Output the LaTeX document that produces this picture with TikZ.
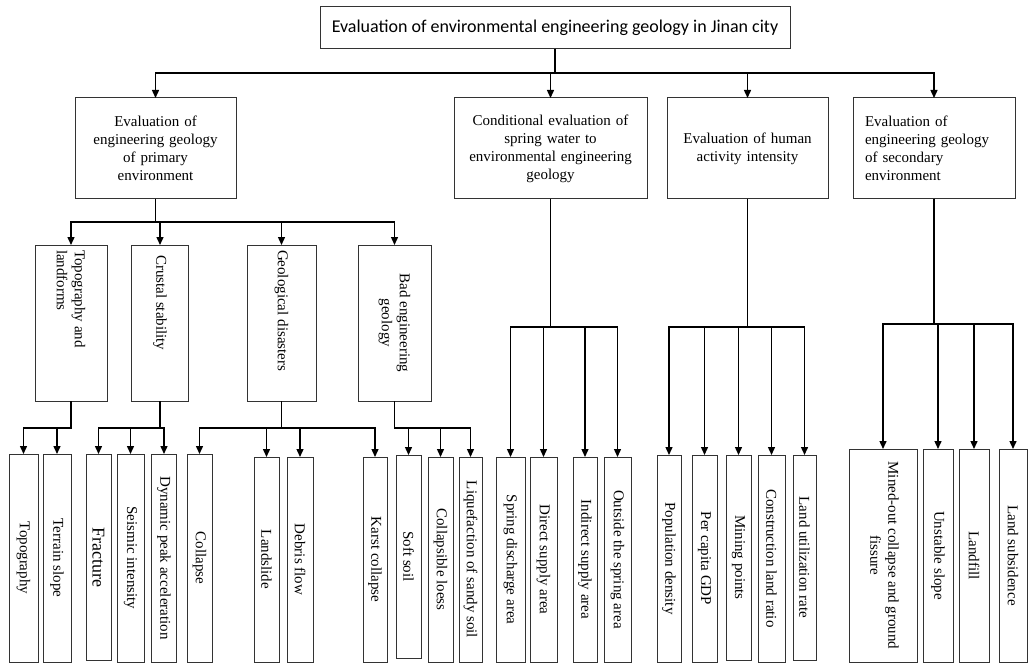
\documentclass[tikz,border=0pt]{standalone}
\usepackage{fontspec}
\setmainfont{Liberation Serif}
\newfontfamily\calibfont{Carlito}
\usepackage{graphicx}
\usetikzlibrary{arrows.meta, positioning}
\newcommand\boxfont{\fontsize{15}{18}\selectfont}
\newcommand\vtext[1]{\rotatebox{-90}{#1}}
\newcommand\vpar[2]{\rotatebox{-90}{\parbox{#1}{#2}}}
\tikzset{
  rootbox/.style={draw=black!80, line width=1pt, minimum width=470pt, minimum height=42pt,
                  inner sep=2pt, outer sep=0pt, font=\calibfont\fontsize{18}{21}\selectfont},
  mainbox/.style={draw=black!80, line width=1pt, minimum height=101pt,
                  inner sep=2pt, outer sep=0pt, font=\boxfont, align=center},
  subbox/.style={draw=black!80, line width=1pt, minimum height=156pt,
                 inner sep=1pt, outer sep=0pt, font=\boxfont},
  leafbox/.style={draw=black!80, line width=1pt, minimum height=205pt,
                  inner sep=1pt, outer sep=0pt, font=\boxfont},
  arr/.style={-{Triangle[width=7pt,length=8pt]}, line width=1.4pt},
}

\begin{document}
\begin{tikzpicture}[x=1pt, y=-1pt]
  \useasboundingbox (0,0) rectangle (1030,663);

  % top
  \node[rootbox] (root) at (555,28) {Evaluation of environmental engineering geology in Jinan city};

  % first level
  \node[mainbox, minimum width=161pt, text width=150pt] (pri) at (155.5,148.5)
    {Evaluation of\\engineering geology\\of primary\\environment};
  \node[mainbox, minimum width=193pt, text width=185pt] (spr) at (550.5,148.5)
    {Conditional evaluation of\\spring water to\\environmental engineering\\geology};
  \node[mainbox, minimum width=161pt, text width=150pt] (hum) at (747.5,148.5)
    {Evaluation of human\\activity intensity};
  \node[mainbox, minimum width=162pt, text width=138pt, align=left] (sec) at (934,148.5)
    {Evaluation of\\engineering geology\\of secondary\\environment};

  \foreach \c in {pri,spr,hum,sec}
    \draw[arr] (root.south) -- ++(0,24) -| (\c.north);

  % primary environment
  \node[subbox, minimum width=72pt] (topo) at (71,323)
    {\vpar{146pt}{\raggedright Topography and\\landforms}};
  \node[subbox, minimum width=57pt] (crust) at (160,323)
    {\vpar{146pt}{\raggedright\hspace*{5pt}Crustal stability}};
  \node[subbox, minimum width=69pt] (geo) at (281.5,323)
    {\vpar{146pt}{\raggedright Geological disasters}};
  \node[subbox, minimum width=73pt] (bad) at (394.5,323)
    {\vpar{146pt}{\centering Bad engineering\\geology}};

  \foreach \c in {topo,crust,geo,bad}
    \draw[arr] (pri.south) -- ++(0,23) -| (\c.north);

  % leaves
  \node[leafbox, minimum width=29pt, minimum height=208pt] (topog) at (23.5,558) {\vtext{Topography}};
  \node[leafbox, minimum width=28pt, minimum height=208pt] (slope) at (57,558) {\vtext{Terrain slope}};
  \node[leafbox, minimum width=25pt, minimum height=206pt] (fract) at (98.5,557)
    {\vtext{\fontsize{18}{21}\selectfont Fracture}};
  \node[leafbox, minimum width=27pt, minimum height=208pt] (seism) at (130.5,558) {\vtext{Seismic intensity}};
  \node[leafbox, minimum width=25pt, minimum height=208pt] (peak) at (164,558) {\vtext{Dynamic peak acceleration}};
  \node[leafbox, minimum width=25pt, minimum height=208pt] (coll) at (199.5,558) {\vtext{Collapse}};
  \node[leafbox, minimum width=25pt] (lslide) at (266.5,559.5) {\vtext{Landslide}};
  \node[leafbox, minimum width=26pt] (debris) at (300,559.5) {\vtext{Debris flow}};
  \node[leafbox, minimum width=24pt] (karst) at (375,559.5) {\vtext{Karst collapse}};
  \node[leafbox, minimum width=25pt, minimum height=203pt] (soft) at (408.5,556.5) {\vtext{Soft soil}};
  \node[leafbox, minimum width=25pt] (loess) at (440.5,559.5) {\vtext{Collapsible loess}};
  \node[leafbox, minimum width=23pt] (liquef) at (470.5,559.5) {\vtext{Liquefaction of sandy soil}};

  \node[leafbox, minimum width=29pt] (sda) at (510.5,559.5) {\vtext{Spring discharge area}};
  \node[leafbox, minimum width=27pt] (dsa) at (543.5,559.5) {\vtext{Direct supply area}};
  \node[leafbox, minimum width=24pt] (isa) at (585,559.5) {\vtext{Indirect supply area}};
  \node[leafbox, minimum width=27pt] (osa) at (617.5,559.5) {\vtext{Outside the spring area}};

  \node[leafbox, minimum width=24pt, minimum height=207pt] (pop) at (669,558.5) {\vtext{Population density}};
  \node[leafbox, minimum width=25pt, minimum height=207pt] (gdp) at (704.5,558.5) {\vtext{Per capita GDP}};
  \node[leafbox, minimum width=25pt] (mining) at (738.5,557.5) {\vtext{Mining points}};
  \node[leafbox, minimum width=27pt, minimum height=207pt] (constr) at (771.5,558.5) {\vtext{Construction land ratio}};
  \node[leafbox, minimum width=23pt] (landu) at (804.5,557.5) {\vtext{Land utilization rate}};

  \node[leafbox, minimum width=68pt, minimum height=213pt] (mined) at (883,555.5)
    {\vtext{\begin{tabular}{@{}c@{}}Mined-out collapse and ground\\fissure\end{tabular}}};
  \node[leafbox, minimum width=30pt, minimum height=213pt] (unst) at (938,555.5) {\vtext{Unstable slope}};
  \node[leafbox, minimum width=30pt, minimum height=213pt] (fill) at (974,555.5) {\vtext{Landfill}};
  \node[leafbox, minimum width=28pt, minimum height=213pt] (subs) at (1013,555.5) {\vtext{Land subsidence}};

  \foreach \c in {topog,slope}
    \draw[arr] (topo.south) -- ++(0,27) -| (\c.north);
  \foreach \c in {fract,seism,peak}
    \draw[arr] (crust.south) -- ++(0,27) -| (\c.north);
  \foreach \c in {coll,lslide,debris,karst}
    \draw[arr] (geo.south) -- ++(0,27) -| (\c.north);
  \foreach \c in {soft,loess,liquef}
    \draw[arr] (bad.south) -- ++(0,27) -| (\c.north);
  \foreach \c in {sda,dsa,isa,osa}
    \draw[arr] (spr.south) -- ++(0,128) -| (\c.north);
  \foreach \c in {pop,gdp,mining,constr,landu}
    \draw[arr] (hum.south) -- ++(0,128) -| (\c.north);
  \foreach \c in {mined,unst,fill,subs}
    \draw[arr] (sec.south) -- ++(0,125) -| (\c.north);
\end{tikzpicture}
\end{document}
